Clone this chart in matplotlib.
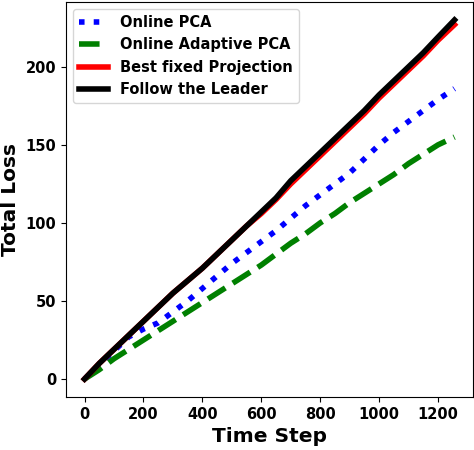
import matplotlib
matplotlib.use('Agg')
import matplotlib.pyplot as plt
import numpy as np

steps = [0, 50, 100, 150, 200, 250, 300, 350, 400, 450, 500, 550, 600, 650,
         700, 750, 800, 850, 900, 950, 1000, 1050, 1100, 1150, 1200, 1256]

online_pca = [0, 9, 18, 27, 32, 36, 43, 50, 58, 66, 74, 81, 88, 95,
              103, 111, 118, 125, 132, 141, 150, 158, 165, 172, 179, 186]
adaptive_pca = [0, 6, 13, 19, 25, 31, 37, 43, 49, 55, 61, 67, 73, 80,
                87, 93, 100, 106, 113, 119, 125, 131, 138, 144, 150, 155]
best_fixed = [0, 10, 19, 28, 37, 46, 55, 63, 71, 80, 89, 98, 106, 115,
              125, 134, 143, 152, 161, 170, 180, 189, 198, 207, 217, 227]
follow_leader = [0, 10, 19, 28, 37, 46, 55, 63, 71, 80, 89, 98, 107, 116,
                 127, 136, 145, 154, 163, 172, 182, 191, 200, 209, 219, 230]

fig = plt.figure(figsize=(4.74, 4.5), dpi=100)
ax = fig.add_axes([66 / 474, 53 / 450, 407 / 474, 395 / 450])

ax.plot(steps, online_pca, ':', color='blue', lw=4, label='Online PCA')
ax.plot(steps, adaptive_pca, '--', color='green', lw=4, label='Online Adaptive PCA')
ax.plot(steps, best_fixed, '-', color='red', lw=4, label='Best fixed Projection')
ax.plot(steps, follow_leader, '-', color='black', lw=4, label='Follow the Leader')

ax.set_xticks([0, 200, 400, 600, 800, 1000, 1200])
ax.set_yticks([0, 50, 100, 150, 200])
for lab in ax.get_xticklabels() + ax.get_yticklabels():
    lab.set_fontweight('bold')
    lab.set_fontsize(10.5)

ax.set_xlabel('Time Step', fontsize=14.5, fontweight='bold')
ax.set_ylabel('Total Loss', fontsize=14.5, fontweight='bold')
ax.legend(loc='upper left', prop={'weight': 'bold', 'size': 10.5})

fig.savefig('out.png', dpi=100)
